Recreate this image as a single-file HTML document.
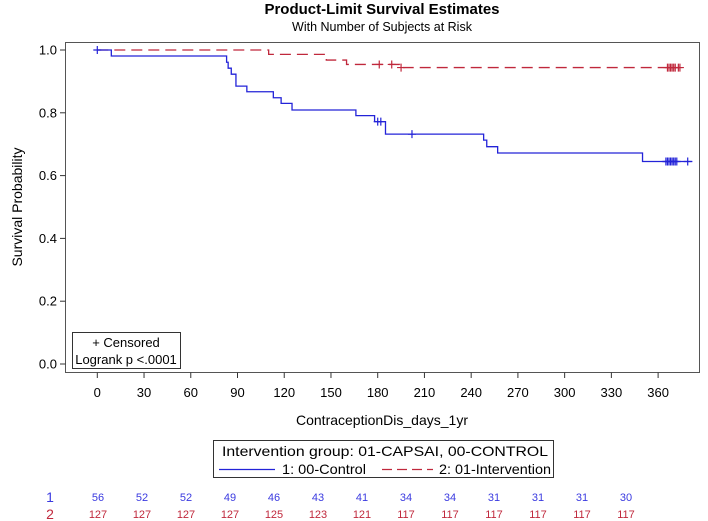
<!DOCTYPE html>
<html><head><meta charset="utf-8"><style>
html,body{margin:0;padding:0;background:#fff;}
svg{display:block;font-family:"Liberation Sans",Arial,sans-serif;}
</style></head><body>
<svg id="chart" width="708" height="521" viewBox="0 0 708 521">
<text x="382" y="14" text-anchor="middle" font-size="15" font-weight="bold">Product-Limit Survival Estimates</text>
<text x="382" y="31" text-anchor="middle" font-size="12.5">With Number of Subjects at Risk</text>
<rect x="65.5" y="42.5" width="634" height="330" fill="none" stroke="#555" stroke-width="1"/>
<g id="axes"></g>
<g id="curves"></g>
<text x="22" y="207" text-anchor="middle" font-size="14" transform="rotate(-90 22 207)">Survival Probability</text>
<text x="382" y="425" text-anchor="middle" font-size="14">ContraceptionDis_days_1yr</text>
<g>
<rect x="72.5" y="332.5" width="108" height="36" fill="#fff" stroke="#333"/>
<text x="126" y="347" text-anchor="middle" font-size="13">+ Censored</text>
<text x="126" y="364" text-anchor="middle" font-size="13">Logrank p &lt;.0001</text>
</g>
<g>
<rect x="213.5" y="440.5" width="340" height="37" fill="#fff" stroke="#333"/>
<text x="222" y="456" font-size="14" textLength="326" lengthAdjust="spacingAndGlyphs">Intervention group: 01-CAPSAI, 00-CONTROL</text>
<line x1="219" y1="469.5" x2="275" y2="469.5" stroke="#2323d8" stroke-width="1.3"/>
<text x="282" y="474" font-size="14" textLength="84" lengthAdjust="spacingAndGlyphs">1: 00-Control</text>
<line x1="382" y1="469.5" x2="433" y2="469.5" stroke="#c0283c" stroke-width="1.3" stroke-dasharray="10,5"/>
<text x="439" y="474" font-size="14" textLength="112" lengthAdjust="spacingAndGlyphs">2: 01-Intervention</text>
</g>
<g id="risk"></g>
</svg>
<script>
const xTicks=[0,30,60,90,120,150,180,210,240,270,300,330,360];
const yTicks=[0.0,0.2,0.4,0.6,0.8,1.0];
const ctrlTimes=[0,9,83,84,86,89,96,113,118,125,166,178,185,248,250,257,350,382];
const ctrlSurv=[1,0.981,0.961,0.942,0.923,0.885,0.867,0.848,0.830,0.809,0.791,0.772,0.732,0.713,0.692,0.672,0.645,0.645];
const ctrlCens=[0,180,182,202,365,366,367,368,369,370,371,372,379];
const intTimes=[0,110,147,160,194,374];
const intSurv=[1,0.986,0.968,0.954,0.944,0.944];
const intCens=[181,189,195,366,367,368,369,370,371,373,374];
const riskCtrl=[56,52,52,49,46,43,41,34,34,31,31,31,30];
const riskInt=[127,127,127,127,125,123,121,117,117,117,117,117,117];
const NS='http://www.w3.org/2000/svg';
const X=d=>97.3+d*1.5578;
const Y=s=>364-s*314;
function mk(tag,attrs,parent,txt){const e=document.createElementNS(NS,tag);for(const k in attrs)e.setAttribute(k,attrs[k]);if(txt!==undefined)e.textContent=txt;parent.appendChild(e);return e;}
const axes=document.getElementById('axes');
xTicks.forEach(t=>{
 const l=mk('line',{x1:X(t),x2:X(t),y1:372.5,y2:378,stroke:'#333'},axes);
 
 
 const tx=mk('text',{x:X(t),y:397,'text-anchor':'middle','font-size':13},axes,String(t));
 
 
});
yTicks.forEach(t=>{
 const l=mk('line',{x1:60,x2:65.5,y1:Y(t),y2:Y(t),stroke:'#333'},axes);
 
 
 const tx=mk('text',{x:57,y:Y(t)+4.5,'text-anchor':'end','font-size':13},axes,t.toFixed(1));
 
 
});
function stepAt(times,surv,t){let s=surv[0];for(let i=0;i<times.length;i++){if(times[i]<=t)s=surv[i];}return s;}
function drawCurve(times,surv,cens,color,dash,name){
 const g=document.getElementById('curves');
 let d='M'+X(times[0])+','+Y(surv[0]);
 for(let i=1;i<times.length;i++){d+=' H'+X(times[i])+' V'+Y(surv[i]);}
 const p=mk('path',{d:d,fill:'none',stroke:color,'stroke-width':1.3,'stroke-dasharray':dash},g);
 
 
 cens.forEach(c=>{
  const x=X(c),y=Y(stepAt(times,surv,c));
  const m=mk('path',{d:`M${x-4},${y} H${x+4} M${x},${y-4} V${y+4}`,stroke:color,'stroke-width':1.2},g);
  
  
 });
}
drawCurve(intTimes,intSurv,intCens,'#c0283c','11,6','intervention');
drawCurve(ctrlTimes,ctrlSurv,ctrlCens,'#2323d8','none','control');
const risk=document.getElementById('risk');
const r1=mk('text',{x:50,y:502,'text-anchor':'middle','font-size':14,fill:'#3a3ae0'},risk,'1');


const r2=mk('text',{x:50,y:519,'text-anchor':'middle','font-size':14,fill:'#c0283c'},risk,'2');


riskCtrl.forEach((v,i)=>{
 const t=mk('text',{x:98+i*44,y:501,'text-anchor':'middle','font-size':11,fill:'#3a3ae0'},risk,String(v));
 
 
});
riskInt.forEach((v,i)=>{
 const t=mk('text',{x:98+i*44,y:518,'text-anchor':'middle','font-size':11,fill:'#c0283c'},risk,String(v));
 
 
});
</script>
</body></html>
